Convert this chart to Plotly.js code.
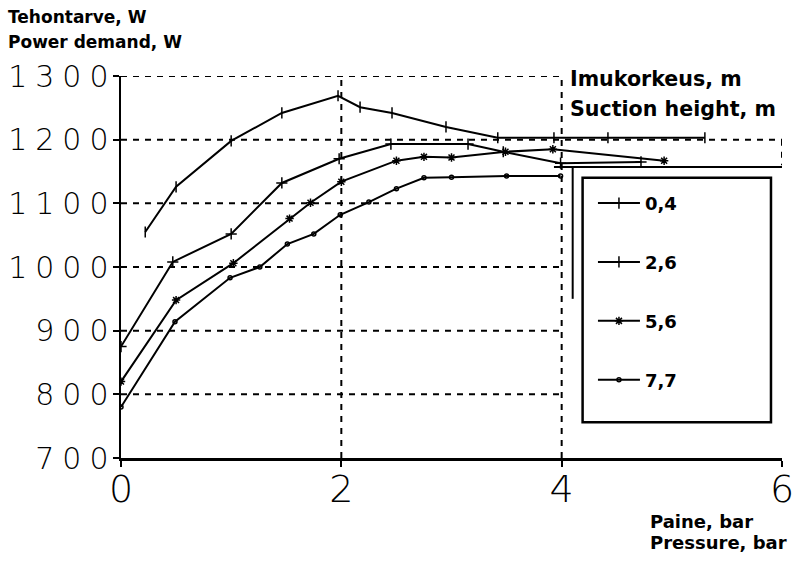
<!DOCTYPE html>
<html><head><meta charset="utf-8">
<script src="https://cdn.plot.ly/plotly-3.0.1.min.js"></script>
<style>
body{margin:0;background:#fff}#c{width:798px;height:561px}
.ytick text{letter-spacing:8px}
</style>
</head><body><div id="c"></div>
<script>
const seriesNames = ["0,4", "2,6", "5,6", "7,7"];
const x04 = [0.22, 0.5, 1.0, 1.46, 1.97, 2.17, 2.46, 2.95, 3.42, 3.93, 4.42, 5.3];
const y04 = [1055, 1126, 1198, 1242, 1269, 1251, 1242, 1220, 1203, 1203, 1203, 1203];
const x26 = [0, 0.47, 1.0, 1.46, 1.98, 2.45, 3.15, 3.47, 3.99, 4.72];
const y26 = [875, 1008, 1052, 1132, 1170, 1193, 1193, 1181, 1163, 1165];
const x56 = [0, 0.5, 1.02, 1.53, 1.72, 2.0, 2.5, 2.75, 3.0, 3.49, 3.92, 4.93];
const y56 = [820, 948, 1006, 1076, 1101, 1134, 1167, 1173, 1172, 1181, 1185, 1167];
const x77 = [0, 0.49, 0.99, 1.26, 1.51, 1.75, 1.99, 2.25, 2.5, 2.75, 3.0, 3.5, 3.99];
const y77 = [780, 914, 983, 1000, 1036, 1052, 1082, 1102, 1123, 1140, 1141, 1143, 1143];
const xTicks = [0, 2, 4, 6];
const yTicks = [700, 800, 900, 1000, 1100, 1200, 1300];

const symbols = ["line-ns-open", "cross-thin-open", "asterisk-open", "circle-open"];
const sizes = [8, 8, 7, 4];
const xs = [x04, x26, x56, x77], ys = [y04, y26, y56, y77];
const traces = seriesNames.map((n, i) => ({
  x: xs[i], y: ys[i], name: n, type: 'scatter', mode: 'lines+markers',
  legendgroup: 'g' + i,
  line: {color: '#000', width: 2},
  marker: {symbol: symbols[i], size: sizes[i], color: '#000', line: {color: '#000', width: 1.5}}
}));

const dash = {color: '#000', width: 2, dash: '6px,6px'};
const shapes = [];
[800, 900, 1000, 1100, 1300].forEach(v => shapes.push({type: 'line', xref: 'x', yref: 'y', x0: 0, x1: 4, y0: v, y1: v, line: dash}));
shapes.push({type: 'line', xref: 'x', yref: 'y', x0: 0, x1: 6, y0: 1200, y1: 1200, line: dash});
[2, 4].forEach(v => shapes.push({type: 'line', xref: 'x', yref: 'y', x0: v, x1: v, y0: 700, y1: 1300, line: dash}));
shapes.push({type: 'line', xref: 'x', yref: 'y', x0: 6, x1: 6, y0: 1200, y1: 1160, line: dash});
// legend frame
shapes.push({type: 'line', xref: 'x', yref: 'y', x0: 3.93, x1: 6, y0: 1157, y1: 1157, line: {color: '#000', width: 2}});
shapes.push({type: 'line', xref: 'x', yref: 'y', x0: 4.1, x1: 4.1, y0: 1157, y1: 950, line: {color: '#000', width: 2}});
shapes.push({type: 'rect', xref: 'x', yref: 'y', x0: 4.19, x1: 5.9, y0: 1140, y1: 756, line: {color: '#000', width: 2.5}});

const fam = 'DejaVu Sans, sans-serif';
const bold = (s) => ({family: fam, size: s, color: '#000', weight: 'bold'});
const ann = (t, x, y, s) => ({text: t, xref: 'paper', yref: 'paper', x: x, y: y, xanchor: 'left', yanchor: 'middle', showarrow: false, font: bold(s)});
const annotations = [
  ann('Tehontarve, W', -0.174, 1.154, 17),
  ann('Power demand, W', -0.174, 1.089, 17),
  ann('Paine, bar', 0.798, -0.165, 18),
  ann('Pressure, bar', 0.798, -0.2225, 18),
  ann('Imukorkeus, m', 0.677, 0.992, 20.6),
  ann('Suction height, m', 0.677, 0.914, 20.6)
];

const layout = {
  width: 798, height: 561,
  margin: {l: 121, r: 16, t: 76, b: 103},
  paper_bgcolor: '#fff', plot_bgcolor: '#fff',
  showlegend: true,
  legend: {x: 0.714, y: 0.715, xanchor: 'left', yanchor: 'top', traceorder: 'grouped', tracegroupgap: 32.5,
    itemwidth: 42,
    bgcolor: 'rgba(0,0,0,0)', borderwidth: 0,
    font: bold(18)},
  xaxis: {range: [0, 6], tickvals: xTicks, ticktext: xTicks.map(String), showgrid: false, zeroline: false,
    showline: true, linecolor: '#000', linewidth: 2.5, ticks: 'outside', ticklen: 6, tickwidth: 2, tickcolor: '#000',
    ticklabelstandoff: -10,
    tickfont: {family: fam, size: 38, color: '#000', weight: 200}},
  yaxis: {range: [700, 1300], tickvals: yTicks, ticktext: yTicks.map(String), showgrid: false, zeroline: false,
    showline: true, linecolor: '#000', linewidth: 2.5, ticks: 'outside', ticklen: 6, tickwidth: 2, tickcolor: '#000',
    ticklabelstandoff: -10,
    tickfont: {family: fam, size: 30, color: '#000', weight: 200}},
  shapes: shapes,
  annotations: annotations
};
Plotly.newPlot('c', traces, layout, {displayModeBar: false, staticPlot: true});
</script>
</body></html>
